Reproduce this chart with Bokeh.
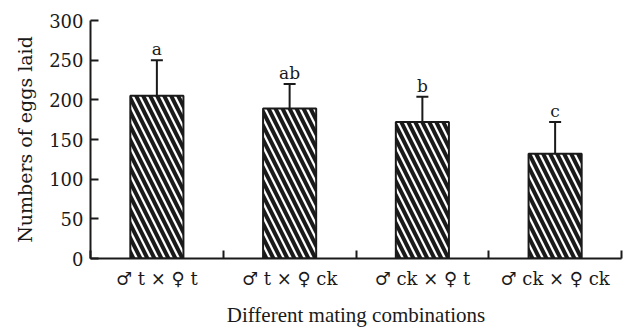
import numpy as np
from bokeh.plotting import figure
from bokeh.models import ColumnDataSource, FixedTicker, Whisker, TeeHead, Range1d
from bokeh.core.properties import value
from bokeh.embed import file_html
from bokeh.resources import INLINE

categories = ["♂ t × ♀ t", "♂ t × ♀ ck", "♂ ck × ♀ t", "♂ ck × ♀ ck"]
means = [205, 189, 172, 132]
errors = [45, 31, 32, 40]
letters = ["a", "ab", "b", "c"]
y_ticks = [0, 50, 100, 150, 200, 250, 300]

xs = np.arange(len(categories)) + 0.5
upper = [m + e for m, e in zip(means, errors)]
src = ColumnDataSource(dict(x=xs, top=means, upper=upper, letters=letters))

INK = "#1a1a1a"
p = figure(width=628, height=329, output_backend="svg", toolbar_location=None,
           x_range=Range1d(0, len(categories)), y_range=Range1d(0, 300),
           min_border_left=90, min_border_right=7, min_border_top=20, min_border_bottom=68)
p.outline_line_color = None
p.border_fill_color = "white"
p.xgrid.grid_line_color = None
p.ygrid.grid_line_color = None
p.background_fill_color = "white"

p.vbar(x="x", top="top", width=0.4, source=src, fill_color="white",
       line_color=INK, line_width=2, hatch_pattern="left_diagonal_line",
       hatch_color=INK, hatch_weight=4, hatch_scale=14)

w = Whisker(source=src, base="x", upper="upper", lower="top",
            upper_head=TeeHead(size=12, line_color=INK, line_width=2),
            lower_head=None, line_color=INK, line_width=2)
p.add_layout(w)

p.text(x="x", y="upper", text="letters", source=src, text_align="center",
       text_baseline="bottom", text_font=value("DejaVu Serif"), text_font_size="17px",
       text_color=INK, y_offset=-1)

# x axis
p.xaxis.ticker = FixedTicker(ticks=list(xs), minor_ticks=list(range(len(categories) + 1)))
p.xaxis.major_label_overrides = {float(x): c for x, c in zip(xs, categories)}
p.xaxis.major_tick_in = 0
p.xaxis.major_tick_out = 0
p.xaxis.minor_tick_in = 8
p.xaxis.minor_tick_out = 0
p.xaxis.minor_tick_line_width = 2
p.xaxis.minor_tick_line_color = INK
p.xaxis.axis_line_width = 2
p.xaxis.axis_line_color = INK
p.xaxis.major_label_text_font = "DejaVu Serif"
p.xaxis.major_label_text_font_size = "18px"
p.xaxis.major_label_text_color = INK
p.xaxis.major_label_standoff = 9
p.xaxis.axis_label = "Different mating combinations"
p.xaxis.axis_label_text_font = "Liberation Serif"
p.xaxis.axis_label_text_font_style = "normal"
p.xaxis.axis_label_text_font_size = "21px"
p.xaxis.axis_label_text_color = INK
p.xaxis.axis_label_standoff = 11

# y axis
p.yaxis.ticker = FixedTicker(ticks=y_ticks)
p.yaxis.minor_tick_line_color = None
p.yaxis.major_tick_in = 8
p.yaxis.major_tick_out = 0
p.yaxis.major_tick_line_width = 2
p.yaxis.major_tick_line_color = INK
p.yaxis.axis_line_width = 2
p.yaxis.axis_line_color = INK
p.yaxis.major_label_text_font = "DejaVu Serif"
p.yaxis.major_label_text_font_size = "18px"
p.yaxis.major_label_text_color = INK
p.yaxis.major_label_standoff = 7
p.yaxis.axis_label = "Numbers of eggs laid"
p.yaxis.axis_label_text_font = "DejaVu Serif"
p.yaxis.axis_label_text_font_style = "normal"
p.yaxis.axis_label_text_font_size = "19px"
p.yaxis.axis_label_text_color = INK
p.yaxis.axis_label_standoff = 10

open("out.html", "w").write(file_html(p, INLINE))
